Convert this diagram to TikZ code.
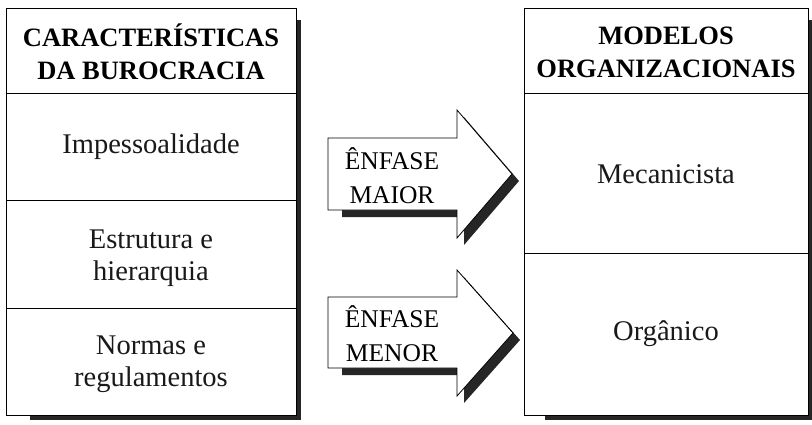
\documentclass[tikz,border=0pt]{standalone}
\usepackage{fontspec}
\setmainfont{Liberation Serif}
\begin{document}
\begin{tikzpicture}[x=1pt,y=-1pt,
  frame/.style={draw=black,line width=0.8pt,fill=white},
  shade/.style={fill=black!85,draw=none},
  lbl/.style={font=\fontsize{28.5}{32}\selectfont,align=center,text=black!90},
  hdr/.style={font=\fontsize{26.5}{33}\selectfont\bfseries,align=center},
  arrtxt/.style={font=\fontsize{25.5}{34}\selectfont,align=center}]
\useasboundingbox (0,0) rectangle (812,424);
% left table
\fill[shade] (30,414) rectangle (301,420);
\fill[shade] (295,20) rectangle (301,420);
\draw[frame] (6,8) rectangle (296,415);
\draw[line width=0.8pt] (6,93) -- (296,93);
\draw[line width=0.8pt] (6,200) -- (296,200);
\draw[line width=0.8pt] (6,308) -- (296,308);
\node[hdr] (h1) at (151,52) {CARACTERÍSTICAS\\DA BUROCRACIA};
\node[lbl] (c1) at (151,147) {Impessoalidade};
\node[lbl] (c2) at (151,258) {Estrutura e\\hierarquia};
\node[lbl] (c3) at (151,364) {Normas e\\regulamentos};
% right table
\fill[shade] (545,414) rectangle (812,420);
\fill[shade] (807,20) rectangle (812,420);
\draw[frame] (524,8) rectangle (808,415);
\draw[line width=0.8pt] (524,93) -- (808,93);
\draw[line width=0.8pt] (524,253) -- (808,253);
\node[hdr] (h2) at (666,52) {MODELOS\\ORGANIZACIONAIS};
\node[lbl] (m1) at (666,174) {Mecanicista};
\node[lbl] (m2) at (666,334) {Orgânico};
% arrows
\fill[shade] (342,145) -- (464,145) -- (464,117) -- (519,181) -- (464,245) -- (464,217) -- (342,217) -- cycle;
\draw[frame] (328,138) -- (457,138) -- (457,110) -- (512,174) -- (457,238) -- (457,210) -- (328,210) -- cycle;
\node[arrtxt] (a1) at (392,176) {ÊNFASE\\MAIOR};
\fill[shade] (342,304) -- (464,304) -- (464,277) -- (520,340) -- (464,403) -- (464,375) -- (342,375) -- cycle;
\draw[frame] (328,297) -- (457,297) -- (457,270) -- (513,333) -- (457,396) -- (457,368) -- (328,368) -- cycle;
\node[arrtxt] (a2) at (392,334) {ÊNFASE\\MENOR};
\end{tikzpicture}
\end{document}
